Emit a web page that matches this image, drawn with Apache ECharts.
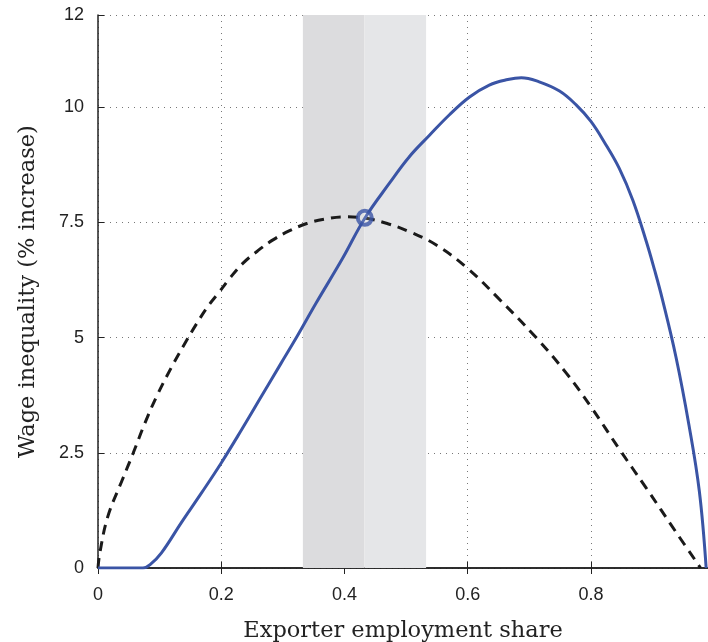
<!DOCTYPE html>
<html>
<head>
<meta charset="utf-8">
<script src="https://cdn.jsdelivr.net/npm/echarts@6/dist/echarts.min.js"></script>
<style>
  html, body { margin: 0; padding: 0; background: #fff; }
  #chart { width: 708px; height: 642px; }
</style>
</head>
<body>
<div id="chart"></div>
<script>
// dashed curve
var dashX = [0, 0.003, 0.016, 0.04, 0.057, 0.076, 0.095, 0.119, 0.143, 0.16, 0.178, 0.195, 0.214, 0.235, 0.259, 0.284, 0.311, 0.34, 0.368, 0.40, 0.435, 0.473, 0.505, 0.549, 0.6, 0.65, 0.711, 0.76, 0.8, 0.846, 0.889, 0.938, 0.978];
var dashY = [0, 0.33, 1.12, 1.93, 2.49, 3.14, 3.72, 4.35, 4.92, 5.3, 5.67, 5.96, 6.29, 6.61, 6.88, 7.12, 7.32, 7.48, 7.57, 7.62, 7.59, 7.46, 7.30, 7.01, 6.50, 5.85, 5.0, 4.23, 3.50, 2.58, 1.75, 0.78, 0];

// solid blue curve
var solidX = [0, 0.073, 0.085, 0.103, 0.135, 0.168, 0.2, 0.233, 0.265, 0.297, 0.322, 0.354, 0.397, 0.433, 0.473, 0.505, 0.538, 0.57, 0.603, 0.635, 0.665, 0.687, 0.716, 0.749, 0.776, 0.8, 0.824, 0.846, 0.868, 0.89, 0.903, 0.916, 0.938, 0.959, 0.976, 0.987];
var solidY = [0, 0, 0.08, 0.33, 0.98, 1.63, 2.28, 3.0, 3.72, 4.44, 5.0, 5.75, 6.72, 7.59, 8.35, 8.92, 9.39, 9.83, 10.22, 10.48, 10.6, 10.64, 10.55, 10.35, 10.05, 9.69, 9.19, 8.67, 7.98, 7.08, 6.48, 5.83, 4.58, 3.11, 1.66, 0];

// intersection marker
var markX = [0.433];
var markY = [7.6];

// shaded bands
var bandDark = [0.3325, 0.4325];
var bandLight = [0.4325, 0.5325];

var xTicks = [0, 0.2, 0.4, 0.6, 0.8];

function pairs(xs, ys) {
  return xs.map(function (x, i) { return [x, ys[i]]; });
}

var chart = echarts.init(document.getElementById('chart'));

var serif = '"DejaVu Serif", "Liberation Serif", serif';
var sans = '"Liberation Sans", Arial, sans-serif';

chart.setOption({
  animation: false,
  grid: { left: 98, top: 15, right: 0, bottom: 74, outerBoundsMode: 'none', containLabel: false },
  xAxis: [{
    type: 'value',
    min: 0,
    max: 0.99,
    interval: 0.2,
    name: 'Exporter employment share',
    nameLocation: 'middle',
    nameGap: 52,
    nameTextStyle: { fontFamily: serif, fontSize: 22.5, color: '#222' },
    axisLine: { onZero: false, lineStyle: { color: '#222', width: 1.5 } },
    axisTick: { inside: true, length: 6, lineStyle: { color: '#222' } },
    axisLabel: {
      margin: 18, fontFamily: sans, fontSize: 18, color: '#222',
      formatter: function (v) {
        var r = Math.round(v * 10) / 10;
        return xTicks.indexOf(r) >= 0 && Math.abs(v - r) < 1e-6 ? String(r) : '';
      }
    },
    splitLine: { lineStyle: { type: [1, 5], color: '#777', width: 1 } }
  }, {
    type: 'value',
    position: 'top',
    min: 0,
    max: 0.99,
    interval: 0.2,
    axisLine: { show: true, lineStyle: { color: '#222', width: 1.5 } },
    axisTick: { inside: true, length: 6, lineStyle: { color: '#222' } },
    axisLabel: { show: false },
    splitLine: { show: false }
  }],
  yAxis: {
    type: 'value',
    min: 0,
    max: 12,
    interval: 2.5,
    name: 'Wage inequality (% increase)',
    nameLocation: 'middle',
    nameGap: 58,
    nameTextStyle: { fontFamily: serif, fontSize: 22.5, color: '#222' },
    axisLine: { show: true, lineStyle: { color: '#222', width: 1.5 } },
    axisTick: { show: true, inside: true, length: 6, lineStyle: { color: '#222' } },
    axisLabel: { margin: 14, fontFamily: sans, fontSize: 18, color: '#222' },
    splitLine: { lineStyle: { type: [1, 5], color: '#777', width: 1 } }
  },
  series: [{
    type: 'line',
    data: pairs(dashX, dashY),
    smooth: 0.4,
    symbol: 'none',
    z: 3,
    lineStyle: { color: '#1a1a1a', width: 3, type: [10, 7] },
    markArea: {
      silent: true,
      z: 1,
      data: [
        [{ xAxis: bandDark[0], itemStyle: { color: '#dcdcde' } }, { xAxis: bandDark[1] }],
        [{ xAxis: bandLight[0], itemStyle: { color: '#e5e6e8' } }, { xAxis: bandLight[1] }]
      ]
    }
  }, {
    type: 'line',
    data: pairs(solidX, solidY),
    smooth: 0.4,
    symbol: 'none',
    z: 4,
    lineStyle: { color: '#3a54a5', width: 3 }
  }, {
    type: 'scatter',
    data: pairs(markX, markY),
    symbol: 'circle',
    symbolSize: 14,
    z: 5,
    itemStyle: { color: 'rgba(255,255,255,0.2)', borderColor: '#3a54a5', borderWidth: 4 }
  }]
});
</script>
</body>
</html>
